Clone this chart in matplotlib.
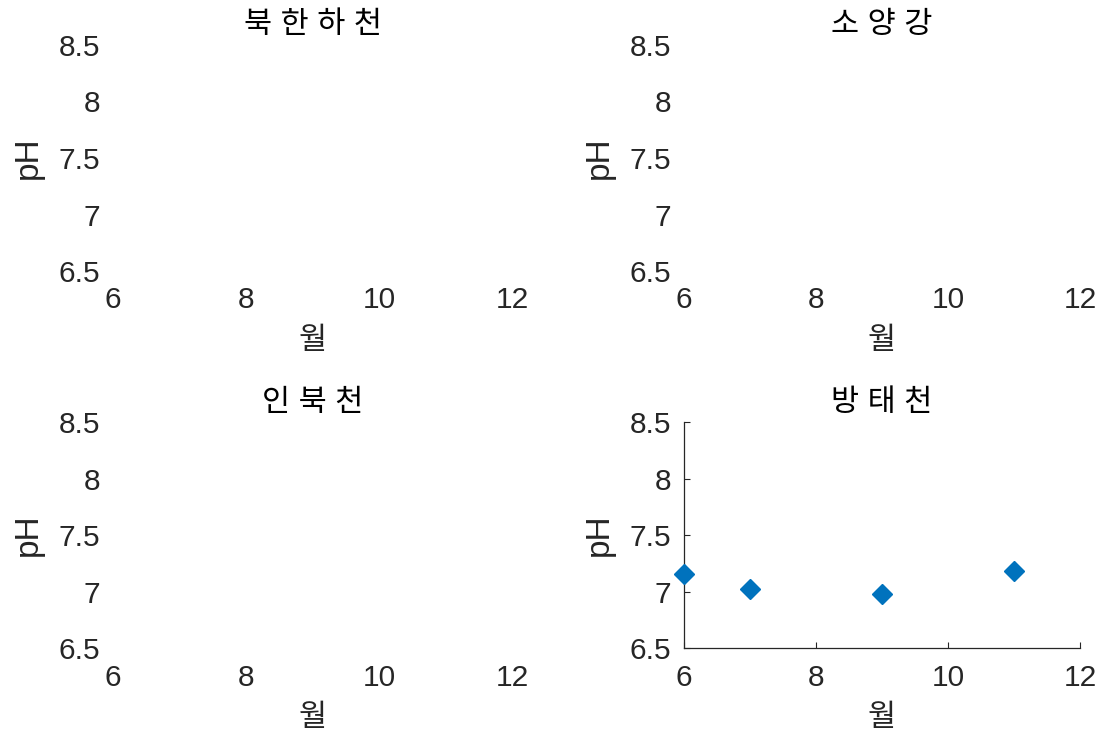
import matplotlib
matplotlib.use("Agg")
import matplotlib.pyplot as plt

plt.rcParams['font.family'] = ['Liberation Sans', 'Noto Sans CJK KR', 'DejaVu Sans']

# 지점 이름
titles = ['북 한 하 천', '소 양 강', '인 북 천', '방 태 천']

# 월별 pH (방태천만 값이 있음)
months_list = [[], [], [], [6, 7, 9, 11]]
ph_list = [[], [], [], [7.16, 7.02, 6.98, 7.18]]

x_ticks = [6, 8, 10, 12]
x_ticklabels = ['6', '8', '10', '12']
y_ticks = [6.5, 7, 7.5, 8, 8.5]
y_ticklabels = ['6.5', '7', '7.5', '8', '8.5']

text_color = '#262626'
marker_color = '#0072BD'

fig = plt.figure(figsize=(11.06, 7.37), dpi=100)

positions = [
    [0.1022, 0.6320, 0.3608, 0.3075],
    [0.6184, 0.6320, 0.3580, 0.3075],
    [0.1022, 0.1204, 0.3608, 0.3070],
    [0.6184, 0.1204, 0.3580, 0.3070],
]

for i in range(4):
    ax = fig.add_axes(positions[i])
    has_data = len(months_list[i]) > 0

    if has_data:
        ax.plot(months_list[i], ph_list[i], linestyle='none', marker='D',
                markersize=10, color=marker_color, clip_on=False, zorder=3)

    ax.set_xlim(6, 12)
    ax.set_ylim(6.5, 8.5)
    ax.set_xticks(x_ticks)
    ax.set_xticklabels(x_ticklabels)
    ax.set_yticks(y_ticks)
    ax.set_yticklabels(y_ticklabels)

    for side in ['top', 'right']:
        ax.spines[side].set_visible(False)
    for side in ['left', 'bottom']:
        ax.spines[side].set_visible(has_data)
        ax.spines[side].set_color(text_color)
        ax.spines[side].set_linewidth(0.9)

    ax.tick_params(axis='both', direction='in', labelsize=21.5, colors=text_color,
                   length=4 if has_data else 0, width=0.8)
    ax.tick_params(axis='x', pad=11)
    ax.tick_params(axis='y', pad=9)

    ax.set_title(titles[i], fontsize=22, color='black', pad=8, fontweight='light')
    ax.set_xlabel('월', fontsize=22, color=text_color, labelpad=8, fontweight='light')
    ax.set_ylabel('pH', fontsize=24, color=text_color, labelpad=11)
    ax.patch.set_alpha(0)

fig.savefig('out.png', dpi=100)
